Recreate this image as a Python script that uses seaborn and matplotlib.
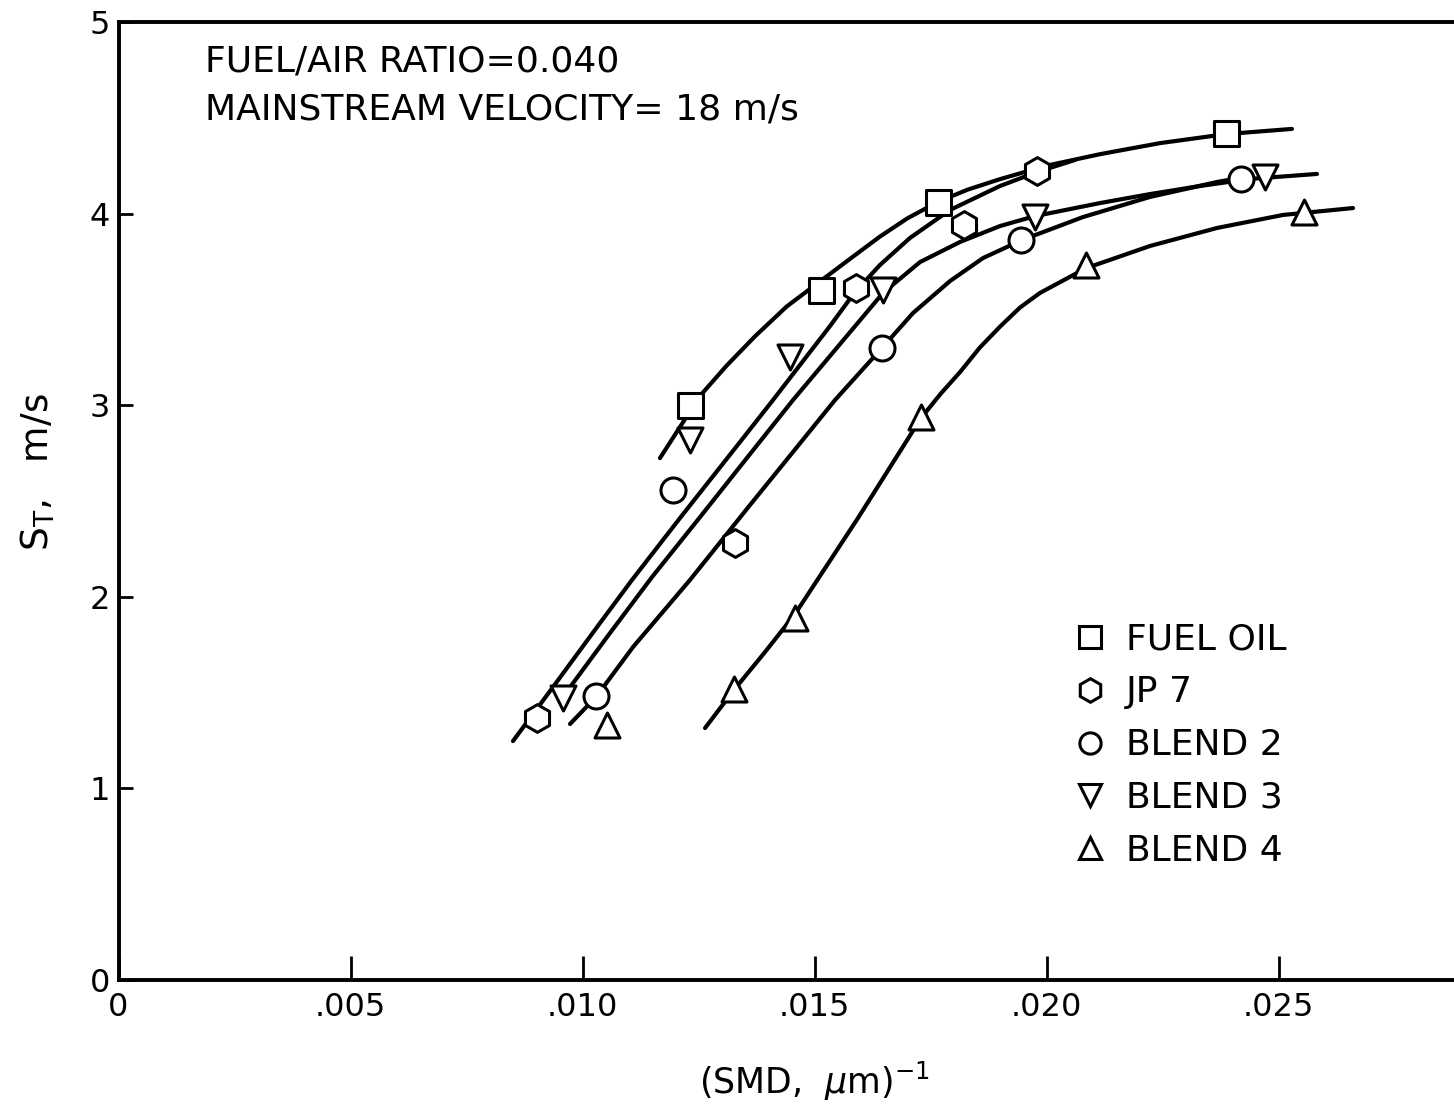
import matplotlib
matplotlib.use("Agg")
import matplotlib.pyplot as plt
from matplotlib.lines import Line2D
import seaborn as sns

sns.set_theme(style="white")
plt.rcParams["font.family"] = ["DejaVu Sans"]
plt.rcParams["mathtext.fontset"] = "dejavusans"

# ---- measured points: x = 1/SMD (1/um), y = S_T (m/s) ----
fuel_oil_x = [0.01232, 0.01514, 0.01766, 0.02387]
fuel_oil_y = [3.00, 3.60, 4.06, 4.42]

jp7_x = [0.00902, 0.01329, 0.01589, 0.01822, 0.01980]
jp7_y = [1.37, 2.28, 3.61, 3.94, 4.22]

blend2_x = [0.01029, 0.01195, 0.01646, 0.01945, 0.02419]
blend2_y = [1.48, 2.56, 3.30, 3.86, 4.18]

blend3_x = [0.00958, 0.01232, 0.01447, 0.01648, 0.01975, 0.02471]
blend3_y = [1.47, 2.82, 3.25, 3.60, 3.98, 4.19]

blend4_x = [0.01053, 0.01326, 0.01458, 0.01730, 0.02085, 0.02555]
blend4_y = [1.33, 1.52, 1.89, 2.94, 3.73, 4.01]

# ---- hand-faired curves through each fuel's data ----
fuel_oil_fit_x = [0.01167, 0.01253, 0.01310, 0.01372, 0.01440, 0.01514,
                  0.01580, 0.01641, 0.01700, 0.01766, 0.01830, 0.01900,
                  0.02000, 0.02115, 0.02245, 0.02387, 0.02529]
fuel_oil_fit_y = [2.724, 3.048, 3.205, 3.360, 3.515, 3.650,
                  3.770, 3.880, 3.975, 4.061, 4.125, 4.180,
                  4.250, 4.310, 4.368, 4.415, 4.442]

jp7_fit_x = [0.008502, 0.009364, 0.010377, 0.011067, 0.012101, 0.013395,
             0.014106, 0.014688, 0.015334, 0.015873, 0.016412, 0.017058,
             0.017921, 0.018998, 0.019795, 0.020615]
jp7_fit_y = [1.247, 1.529, 1.863, 2.088, 2.411, 2.808,
             3.027, 3.210, 3.413, 3.591, 3.732, 3.873,
             4.019, 4.144, 4.217, 4.280]

blend2_fit_x = [0.009731, 0.010291, 0.011089, 0.012317, 0.013610, 0.014537,
                0.015442, 0.016455, 0.017123, 0.017921, 0.018632, 0.019472,
                0.020787, 0.022231, 0.023675, 0.024170]
blend2_fit_y = [1.336, 1.477, 1.738, 2.088, 2.479, 2.756,
                3.027, 3.299, 3.481, 3.648, 3.768, 3.862,
                3.982, 4.087, 4.165, 4.186]

blend3_fit_x = [0.009688, 0.010593, 0.011498, 0.012533, 0.013610, 0.014537,
                0.015550, 0.016476, 0.017274, 0.018137, 0.018998, 0.019752,
                0.021153, 0.022231, 0.023308, 0.024386, 0.025829]
blend3_fit_y = [1.514, 1.811, 2.103, 2.416, 2.745, 3.027,
                3.319, 3.586, 3.747, 3.852, 3.935, 3.987,
                4.055, 4.102, 4.144, 4.181, 4.207]

blend4_fit_x = [0.012641, 0.013265, 0.013934, 0.014580, 0.015937, 0.017296,
                0.017720, 0.018137, 0.018560, 0.018998, 0.019430, 0.019860,
                0.020851, 0.022231, 0.023675, 0.025098, 0.026606]
blend4_fit_y = [1.315, 1.514, 1.712, 1.910, 2.411, 2.933,
                3.060, 3.173, 3.300, 3.410, 3.510, 3.586,
                3.715, 3.831, 3.925, 3.993, 4.029]

legend_labels = ["FUEL OIL", "JP 7", "BLEND 2", "BLEND 3", "BLEND 4"]
x_ticks = [0, 0.005, 0.010, 0.015, 0.020, 0.025]
x_tick_labels = ["0", ".005", ".010", ".015", ".020", ".025"]
y_ticks = [0, 1, 2, 3, 4, 5]
y_tick_labels = ["0", "1", "2", "3", "4", "5"]

series = [
    (fuel_oil_x, fuel_oil_y, fuel_oil_fit_x, fuel_oil_fit_y, "s", 18),
    (jp7_x, jp7_y, jp7_fit_x, jp7_fit_y, "h", 20),
    (blend2_x, blend2_y, blend2_fit_x, blend2_fit_y, "o", 18),
    (blend3_x, blend3_y, blend3_fit_x, blend3_fit_y, "v", 18),
    (blend4_x, blend4_y, blend4_fit_x, blend4_fit_y, "^", 18),
]

W, H = 1454, 1105
fig = plt.figure(figsize=(W / 100, H / 100), dpi=100)
x0_px, y0_px, ytop_px = 118.5, 980, 22
ax = fig.add_axes([x0_px / W, (H - y0_px) / H, (W - x0_px) / W, (y0_px - ytop_px) / H])

ink = "black"
for mx, my, fx, fy, mk, ms in series:
    sns.lineplot(x=fx, y=fy, sort=False, estimator=None, color=ink,
                 linewidth=3.0, ax=ax, zorder=2)
    sns.scatterplot(x=mx, y=my, marker=mk, s=ms ** 2, color="white",
                    edgecolor=ink, linewidth=2.2, ax=ax, zorder=3)

ax.set_xlim(0, (W - x0_px) / 232 * 0.005)
ax.set_ylim(0, 5)
ax.set_xticks(x_ticks, x_tick_labels)
ax.set_yticks(y_ticks, y_tick_labels)

for side in ["left", "bottom", "top"]:
    ax.spines[side].set_color(ink)
    ax.spines[side].set_linewidth(2.8)
ax.spines["right"].set_visible(False)

ax.tick_params(axis="x", direction="in", length=17, width=2.0, pad=9,
               labelsize=23, colors=ink, bottom=True, top=False)
ax.tick_params(axis="y", direction="in", length=10, width=2.0, pad=6,
               labelsize=23, colors=ink, left=True, right=False)

ax.set_xlabel(r"(SMD,  $\mu$m)$^{-1}$", fontsize=25, color=ink)
ax.xaxis.set_label_coords(0.521, -0.083)
ax.set_ylabel(r"S$_{\mathregular{T}}$,   m/s", fontsize=27, color=ink)
ax.yaxis.set_label_coords(-0.046, 0.53)

ax.text(0.0648, 0.948, "FUEL/AIR RATIO=0.040", transform=ax.transAxes,
        fontsize=26, va="baseline", ha="left", color=ink)
ax.text(0.0648, 0.898, "MAINSTREAM VELOCITY= 18 m/s", transform=ax.transAxes,
        fontsize=26, va="baseline", ha="left", color=ink)

handles = [Line2D([], [], linestyle="none", marker=mk, markersize=ms * 0.85,
                  markerfacecolor="white", markeredgecolor=ink,
                  markeredgewidth=2.2)
           for _, _, _, _, mk, ms in series]
leg = ax.legend(handles, legend_labels, loc="upper left",
                bbox_to_anchor=(0.714, 0.373), frameon=False, fontsize=26,
                handlelength=1.0, handletextpad=0.5, labelspacing=0.52,
                borderpad=0, borderaxespad=0)
for t in leg.get_texts():
    t.set_color(ink)

fig.savefig("out.png", dpi=100, facecolor="white")
